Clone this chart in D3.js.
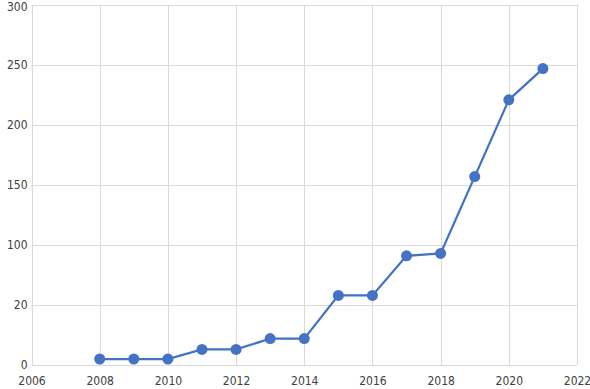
<!DOCTYPE html>
<html>
<head>
<meta charset="utf-8">
<script src="https://cdn.jsdelivr.net/npm/d3@7"></script>
<style>
  body { margin: 0; background: #fff; }
  text { font-family: "DejaVu Sans Condensed", "DejaVu Sans", sans-serif; font-stretch: condensed; font-size: 12px; fill: #404040; }
</style>
</head>
<body>
<div id="chart"></div>
<script>
// data
const years = [2008, 2009, 2010, 2011, 2012, 2013, 2014, 2015, 2016, 2017, 2018, 2019, 2020, 2021];
const counts = [5, 5, 5, 13, 13, 22, 22, 58, 58, 91, 93, 157, 221, 247];

const xTicks = [2006, 2008, 2010, 2012, 2014, 2016, 2018, 2020, 2022];
const yTicks = [0, 50, 100, 150, 200, 250, 300];
const yTickLabels = ['0', '20', '100', '150', '200', '250', '300'];

const width = 590, height = 389;
const margin = { top: 5, right: 13, bottom: 24, left: 31.5 };

const svg = d3.select('#chart').append('svg')
    .attr('width', width)
    .attr('height', height);

const x = d3.scaleLinear()
    .domain([2006, 2022])
    .range([margin.left, width - margin.right]);

const y = d3.scaleLinear()
    .domain([0, 300])
    .range([height - margin.bottom, margin.top]);

// grid
const grid = svg.append('g').attr('stroke', '#d9d9d9').attr('stroke-width', 1);
grid.selectAll('.h')
    .data(yTicks)
    .enter().append('line')
    .attr('x1', x(2006)).attr('x2', x(2022))
    .attr('y1', d => Math.round(y(d)) + 0.5).attr('y2', d => Math.round(y(d)) + 0.5);
grid.selectAll('.v')
    .data(xTicks)
    .enter().append('line')
    .attr('x1', d => Math.round(x(d)) + 0.5).attr('x2', d => Math.round(x(d)) + 0.5)
    .attr('y1', y(300)).attr('y2', y(0));

// axes
const xAxis = d3.axisBottom(x).tickValues(xTicks).tickFormat(d3.format('d')).tickSize(0).tickPadding(11);
svg.append('g')
    .attr('transform', `translate(0,${y(0)})`)
    .call(xAxis)
    .call(g => g.select('.domain').remove())
    .selectAll('text').attr('fill', '#404040').style('font-size', '12px').style('font-family', null);

const yAxis = d3.axisLeft(y).tickValues(yTicks).tickFormat((d, i) => yTickLabels[i]).tickSize(0).tickPadding(4);
svg.append('g')
    .attr('transform', `translate(${margin.left},0)`)
    .call(yAxis)
    .call(g => g.select('.domain').remove())
    .selectAll('text').attr('fill', '#404040').style('font-size', '12px')
    .attr('dy', (d, i) => i === yTicks.length - 1 ? '0.45em' : '0.32em');

// line
const points = years.map((yr, i) => ({ year: yr, value: counts[i] }));
const line = d3.line()
    .x(d => x(d.year))
    .y(d => y(d.value));

svg.append('path')
    .datum(points)
    .attr('fill', 'none')
    .attr('stroke', '#4472c4')
    .attr('stroke-width', 2.25)
    .attr('d', line);

svg.selectAll('circle')
    .data(points)
    .enter().append('circle')
    .attr('cx', d => x(d.year))
    .attr('cy', d => y(d.value))
    .attr('r', 5.5)
    .attr('fill', '#4472c4');
</script>
</body>
</html>
